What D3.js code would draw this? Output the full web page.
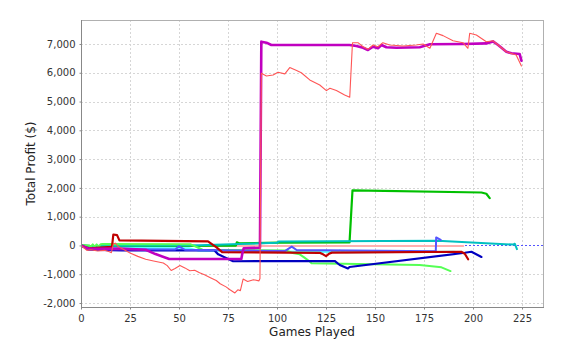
<!DOCTYPE html>
<html><head><meta charset="utf-8">
<script src="https://cdn.jsdelivr.net/npm/d3@7"></script>
<style>body{margin:0;background:#fff}svg{display:block}</style>
</head><body>
<svg id="chart" width="564" height="344"></svg>
<script>
// ---- data (games played, total profit $) ----
const xTicks = [0, 25, 50, 75, 100, 125, 150, 175, 200, 225];
const yTicks = [-2000, -1000, 0, 1000, 2000, 3000, 4000, 5000, 6000, 7000];

const seriesPink = [[0,0],[4,-30],[60,-20],[195,-20]];
const seriesDarkCyan = [[0,0],[5,-20],[60,10],[100,90],[101,140],[182,160],[220.4,30],[221.3,60],[222.4,-130]];
const seriesCyan = [[0,0],[4,-100],[25,-90],[55,-100],[60,-180],[130,-230],[132,-180],[135,-240],[190,-220],[193,-240]];
const seriesLightGreen = [[0,0],[4.3,0],[5,-45],[6,35],[7,-45],[8,35],[9,-45],[10,40],[11,50],[56,40],[59,-55],[62,-150],[105,-180],[108,-265],[111.6,-310],[114,-425],[116.7,-560],[117.6,-620],[172.8,-680],[183.9,-760],[188.5,-890]];
const seriesDarkGreen = [[0,0],[5,-20],[40,-20],[79,-10],[79.5,110],[81,70],[101,100],[137,105],[138.5,1910],[204.3,1840],[206.8,1795],[208.5,1645]];
const seriesDarkBlue = [[0,0],[4,-150],[21,-170],[68,-170],[70,-310],[77.6,-550],[129.4,-540],[132,-680],[136.2,-800],[137,-750],[195.8,-255],[199.2,-220],[204.3,-400]];
const seriesBlue = [[0,0],[4,-140],[20,-130],[48,-140],[50,-30],[53,-150],[104,-195],[107.5,-40],[110,-160],[181,-200],[181.2,280],[183.5,190]];
const seriesDarkRed = [[0,0],[4,-100],[15.8,-50],[16.5,380],[18.4,360],[19.6,175],[64.8,140],[67.3,20],[69,-60],[72,-230],[122,-260],[123.5,-310],[125,-370],[126.5,-290],[128,-250],[194,-220],[195.8,-290],[197.5,-480]];
const seriesMagenta = [[0,0],[4,-120],[20,-110],[33,-150],[38,-300],[45,-470],[81.8,-470],[82.3,-280],[83,-100],[91.3,-80],[92,7080],[94.6,7045],[97.1,6965],[137,6965],[140.5,6930],[143.9,6870],[146.4,6790],[149,6905],[151.5,6850],[153.3,6965],[155.8,6885],[160.9,6870],[172.8,6885],[178,6990],[195,7000],[206.8,7020],[210.2,7090],[212.8,6965],[217,6730],[219.6,6675],[223.8,6650],[224.7,6420]];
const seriesRed = [[0,0],[3,-170],[5,-150],[8.5,-195],[12,-170],[14.5,-220],[15.5,-250],[16.5,50],[17.5,80],[19,-40],[22,-150],[25,-265],[29,-380],[33,-480],[37,-540],[42,-610],[44,-700],[46,-870],[48,-800],[50.5,-700],[53,-780],[55.5,-880],[58,-860],[60.5,-950],[63,-1020],[66,-1120],[69,-1220],[71,-1330],[74,-1440],[76,-1540],[78.5,-1650],[80,-1540],[81.3,-1570],[82.7,-1170],[85,-1250],[88,-1190],[90.8,-1230],[91.3,-1150],[92,5980],[94.6,5890],[98,5920],[100.5,6015],[104,5960],[106.5,6180],[110,6075],[112.4,6000],[116.7,5750],[121.8,5575],[125.2,5380],[127,5460],[130.3,5380],[134.5,5230],[137.1,5150],[138.5,7045],[141.3,7045],[143.9,6905],[146.4,6815],[149,6965],[151.5,6905],[154,7045],[157.5,6965],[164.3,6930],[171,6965],[174.5,7000],[178,6850],[181.3,7370],[184.7,7290],[189.8,7110],[194.9,7045],[197.4,6850],[198.3,7370],[201.7,7310],[206.8,7080],[210.2,7110],[212.8,6965],[217,6730],[222,6615],[224.7,6235]];

// drawing order (first drawn = bottom)
const seriesList = [
  {data: seriesPink, color: "#ffafaf", w: 2},
  {data: seriesDarkGreen, color: "#00c000", w: 2.2},
  {data: seriesDarkCyan, color: "#00c0c0", w: 2},
  {data: seriesCyan, color: "#55ffff", w: 2},
  {data: seriesLightGreen, color: "#55ff55", w: 2},
  {data: seriesDarkBlue, color: "#0000c0", w: 2.2},
  {data: seriesBlue, color: "#5555ff", w: 2},
  {data: seriesDarkRed, color: "#c00000", w: 2.2},
  {data: seriesMagenta, color: "#c000c0", w: 2.6},
  {data: seriesRed, color: "#ff5555", w: 1.1}
];

const L = 81, R = 543, T = 20, B = 307;
const svg = d3.select("#chart");
const x = d3.scaleLinear().domain([0, 235.7]).range([L, R]);
const y = d3.scaleLinear().domain([-2139, 7833]).range([B, T]);
const fmt = v => d3.format(",")(v).replace("\u2212", "-");
const font = "DejaVu Sans, sans-serif";

svg.append("rect").attr("x", L).attr("y", T).attr("width", R - L).attr("height", B - T).attr("fill", "#fff");

// grid
const grid = svg.append("g").attr("stroke", "#d6d6d6").attr("stroke-width", 1).attr("stroke-dasharray", "2,2");
grid.selectAll(".gx").data(xTicks.filter(d => d > 0)).join("line")
  .attr("x1", d => Math.round(x(d)) + 0.5).attr("x2", d => Math.round(x(d)) + 0.5)
  .attr("y1", T).attr("y2", B);
grid.selectAll(".gy").data(yTicks).join("line")
  .attr("y1", d => Math.round(y(d)) + 0.5).attr("y2", d => Math.round(y(d)) + 0.5)
  .attr("x1", L).attr("x2", R);

// clip
svg.append("clipPath").attr("id", "clip").append("rect")
  .attr("x", L).attr("y", T).attr("width", R - L).attr("height", B - T);

// zero marker
svg.append("line").attr("x1", L).attr("x2", R)
  .attr("y1", Math.round(y(0)) + 0.5).attr("y2", Math.round(y(0)) + 0.5)
  .attr("stroke", "#5555ff").attr("stroke-width", 1).attr("stroke-dasharray", "2,2");

const line = d3.line().x(d => x(d[0])).y(d => y(d[1]));
const lines = svg.append("g").attr("clip-path", "url(#clip)");
seriesList.forEach(s => {
  lines.append("path").attr("d", line(s.data)).attr("fill", "none")
    .attr("stroke", s.color).attr("stroke-width", s.w)
    .attr("stroke-linejoin", "round").attr("stroke-linecap", "round");
});

// outline
svg.append("rect").attr("x", L + 0.5).attr("y", T + 0.5).attr("width", R - L).attr("height", B - T)
  .attr("fill", "none").attr("stroke", "#b0b0b0");

// axes
const xAxis = svg.append("g").attr("transform", `translate(0,${B + 0.5})`)
  .call(d3.axisBottom(x).tickValues(xTicks).tickSize(2).tickPadding(5).tickFormat(fmt));
const yAxis = svg.append("g").attr("transform", `translate(${L + 0.5},0)`)
  .call(d3.axisLeft(y).tickValues(yTicks).tickSize(2).tickPadding(4).tickFormat(fmt));
[xAxis, yAxis].forEach(a => {
  a.select(".domain").attr("stroke", "#888").attr("d", null);
  a.selectAll(".tick line").attr("stroke", "#888");
  a.selectAll("text").attr("font-family", font).attr("font-size", 10).attr("fill", "#333");
});
svg.append("line").attr("x1", L + 0.5).attr("x2", L + 0.5).attr("y1", T).attr("y2", B + 1).attr("stroke", "#888");
svg.append("line").attr("x1", L).attr("x2", R + 1).attr("y1", B + 0.5).attr("y2", B + 0.5).attr("stroke", "#888");

// titles
svg.append("text").attr("x", (L + R) / 2).attr("y", 336).attr("text-anchor", "middle")
  .attr("font-family", font).attr("font-size", 12).attr("fill", "#222").text("Games Played");
svg.append("text").attr("transform", `translate(35,${(T + B) / 2}) rotate(-90)`).attr("text-anchor", "middle")
  .attr("font-family", font).attr("font-size", 12).attr("fill", "#222").text("Total Profit ($)");
</script>
</body></html>
